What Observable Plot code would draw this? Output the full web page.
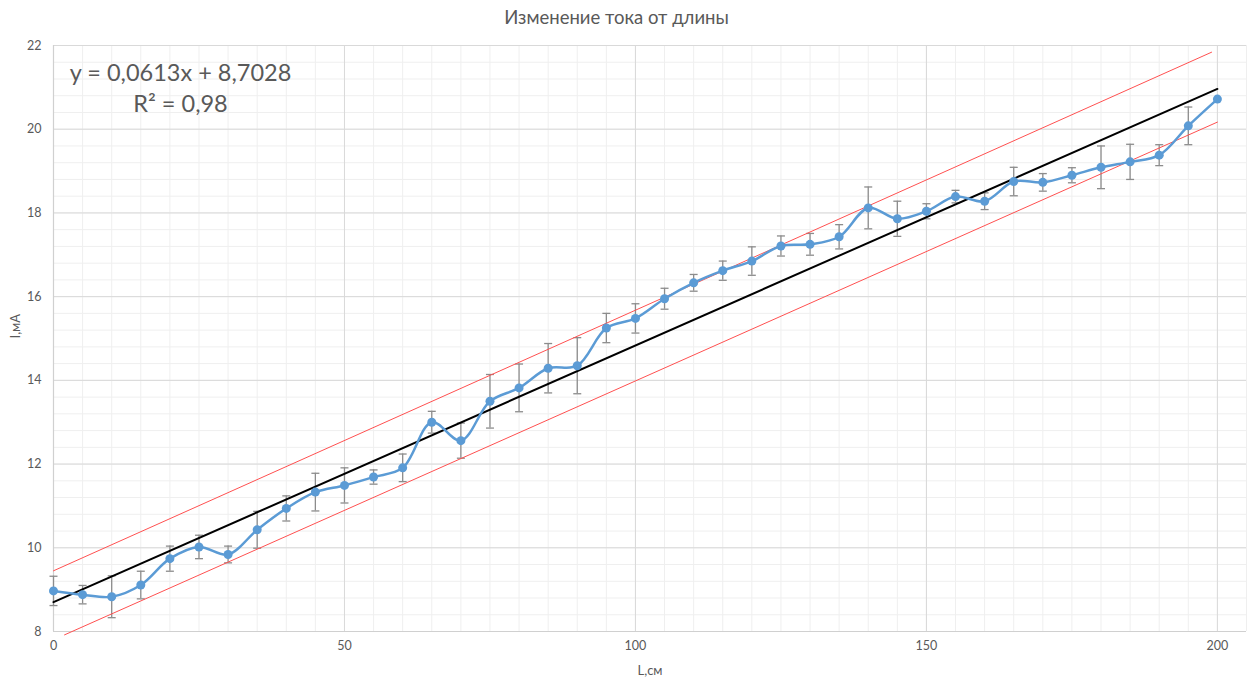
<!DOCTYPE html>
<html>
<head>
<meta charset="utf-8">
<script src="https://cdn.jsdelivr.net/npm/d3@7"></script>
<script src="https://cdn.jsdelivr.net/npm/@observablehq/plot@0.6"></script>
<style>
  html, body { margin: 0; padding: 0; background: #fff; }
</style>
</head>
<body>
<div id="chart"></div>
<script>
// ---- data ----
const L = [0,5,10,15,20,25,30,35,40,45,50,55,60,65,70,75,80,85,90,95,100,105,110,115,120,125,130,135,140,145,150,155,160,165,170,175,180,185,190,195,200];
const I = [8.97,8.88,8.83,9.11,9.74,10.02,9.84,10.43,10.94,11.33,11.49,11.69,11.91,13.0,12.56,13.5,13.82,14.29,14.35,15.25,15.48,15.95,16.33,16.62,16.85,17.21,17.25,17.43,18.12,17.86,18.04,18.39,18.28,18.75,18.73,18.9,19.09,19.22,19.38,20.08,20.72];
const err = [0.35,0.22,0.5,0.33,0.3,0.28,0.2,0.44,0.3,0.45,0.42,0.17,0.33,0.26,0.42,0.64,0.57,0.59,0.67,0.35,0.35,0.25,0.2,0.23,0.34,0.24,0.26,0.29,0.5,0.42,0.18,0.15,0.2,0.34,0.21,0.18,0.51,0.42,0.25,0.45,0];
const slope = 0.0613, intercept = 8.7028;
const trendX = [0, 200];
const upperBand = [[0, 9.45], [199, 21.84]];
const lowerBand = [[1.9, 7.92], [200, 20.17]];
const xTicks = [0, 50, 100, 150, 200];
const yTicks = [8, 10, 12, 14, 16, 18, 20, 22];
const xMinor = [0,5,10,15,20,25,30,35,40,45,50,55,60,65,70,75,80,85,90,95,100,105,110,115,120,125,130,135,140,145,150,155,160,165,170,175,180,185,190,195,200,205];
const yMinor = [8,8.4,8.8,9.2,9.6,10,10.4,10.8,11.2,11.6,12,12.4,12.8,13.2,13.6,14,14.4,14.8,15.2,15.6,16,16.4,16.8,17.2,17.6,18,18.4,18.8,19.2,19.6,20,20.4,20.8,21.2,21.6,22];
const title = "Изменение тока от длины";
const xLabel = "L,см";
const yLabel = "I,мА";
const eqText = "y = 0,0613x + 8,7028\nR² = 0,98";

const data = L.map((l, i) => ({L: l, I: I[i], e: err[i]}));
const errData = data.filter(d => d.e > 0);
const trend = trendX.map(x => ({x, y: slope * x + intercept}));

const capSymbol = {
  draw(ctx, size) { ctx.moveTo(-4, 0); ctx.lineTo(4, 0); }
};

const font = "Lato, 'Open Sans', sans-serif";
const grey = "#595959";

const chart = Plot.plot({
  width: 1253,
  height: 679,
  marginLeft: 53,
  marginRight: 7,
  marginTop: 45,
  marginBottom: 48,
  x: {domain: [0, 205]},
  y: {domain: [8, 22]},
  style: {fontFamily: font, background: "#fff", color: grey, overflow: "visible"},
  marks: [
    Plot.ruleX(xMinor, {stroke: "#efefef", strokeWidth: 1}),
    Plot.ruleY(yMinor, {stroke: "#efefef", strokeWidth: 1}),
    Plot.ruleX(xTicks, {stroke: "#d9d9d9", strokeWidth: 1}),
    Plot.ruleY(yTicks, {stroke: "#d9d9d9", strokeWidth: 1}),
    Plot.ruleY([8], {stroke: "#d0d0d0", strokeWidth: 1.2}),
    Plot.ruleX([0], {stroke: "#d0d0d0", strokeWidth: 1.2}),
    Plot.axisX(xTicks, {tickSize: 0, tickPadding: 10, fontSize: 12.5, label: null, color: grey}),
    Plot.axisY(yTicks, {tickSize: 0, tickPadding: 12, fontSize: 12.5, label: null, color: grey}),
    // error bars
    Plot.ruleX(errData, {x: "L", y1: d => d.I - d.e, y2: d => d.I + d.e, stroke: "#8c8c8c", strokeWidth: 1.3}),
    Plot.dot(errData, {x: "L", y: d => d.I + d.e, symbol: capSymbol, stroke: "#8c8c8c", strokeWidth: 1.3, fill: "none", r: 4}),
    Plot.dot(errData, {x: "L", y: d => d.I - d.e, symbol: capSymbol, stroke: "#8c8c8c", strokeWidth: 1.3, fill: "none", r: 4}),
    // red bands
    Plot.line(upperBand, {x: d => d[0], y: d => d[1], stroke: "#ff5050", strokeWidth: 1, clip: false}),
    Plot.line(lowerBand, {x: d => d[0], y: d => d[1], stroke: "#ff5050", strokeWidth: 1, clip: false}),
    // trend line
    Plot.line(trend, {x: "x", y: "y", stroke: "#000", strokeWidth: 2}),
    // data
    Plot.line(data, {x: "L", y: "I", stroke: "#5b9bd5", strokeWidth: 2.5, curve: "catmull-rom"}),
    Plot.dot(data, {x: "L", y: "I", fill: "#5b9bd5", r: 4.5, stroke: "none"}),
    // texts
    Plot.text([title], {text: d => d, frameAnchor: "top", lineAnchor: "middle", dy: -27, dx: -33.5, fontSize: 18.5, fill: grey}),
    Plot.text([xLabel], {text: d => d, frameAnchor: "bottom", lineAnchor: "middle", dy: 39, dx: 0, fontSize: 13, fill: grey}),
    Plot.text([yLabel], {text: d => d, frameAnchor: "left", dx: -38, rotate: -90, fontSize: 13, fill: grey}),
    Plot.text([eqText], {text: d => d, frameAnchor: "top-left", dx: 127, dy: 41, textAnchor: "middle", lineAnchor: "middle", lineHeight: 1.33, fontSize: 23.5, fill: grey})
  ]
});
document.getElementById("chart").appendChild(chart);
</script>
</body>
</html>
